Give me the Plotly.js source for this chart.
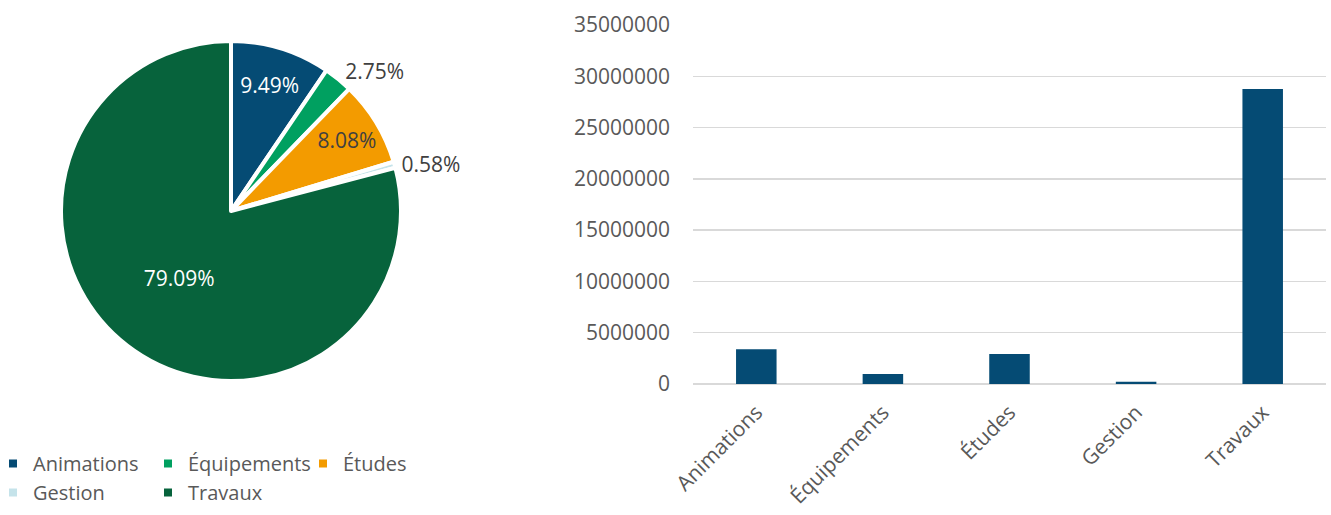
<!DOCTYPE html>
<html>
<head>
<meta charset="utf-8">
<script src="https://cdn.plot.ly/plotly-3.0.1.min.js"></script>
<style>
  html, body { margin: 0; padding: 0; background: #fff; overflow: hidden; }
  #wrap { position: relative; width: 1331px; height: 515px; }
  #pie { position: absolute; left: -7px; top: 0; width: 600px; height: 515px; }
  #bar { position: absolute; left: 557px; top: 0; width: 774px; height: 515px; }
</style>
</head>
<body>
<div id="wrap">
  <div id="pie"></div>
  <div id="bar"></div>
</div>
<script>
// ---- data ----
const categories = ["Animations", "Équipements", "Études", "Gestion", "Travaux"];
const sharePercent = [9.49, 2.75, 8.08, 0.58, 79.09];
const amounts = [3400000, 980000, 2920000, 210000, 28750000];
const yTickValues = [0, 5000000, 10000000, 15000000, 20000000, 25000000, 30000000, 35000000];
const yTickLabels = ["0", "5000000", "10000000", "15000000", "20000000", "25000000", "30000000", "35000000"];

// ---- styles ----
const sliceColors = ["#054B74", "#00A060", "#F39B00", "#C5E3EA", "#07633C"];
const labelColors = ["#ffffff", "#404040", "#404040", "#404040", "#ffffff"];
const labelPositions = ["inside", "outside", "inside", "outside", "inside"];
const FONT = "Open Sans, sans-serif";

const W = 600, H = 515;
const pieTrace = {
  type: "pie",
  labels: categories,
  values: sharePercent,
  sort: false,
  direction: "clockwise",
  rotation: 0,
  marker: { colors: sliceColors, line: { color: "#ffffff", width: 4 } },
  texttemplate: "%{value:.2f}%",
  textposition: labelPositions,
  insidetextorientation: "horizontal",
  textfont: { family: FONT, size: 21, color: labelColors },
  outsidetextfont: { family: FONT, size: 21, color: "#404040" },
  hoverinfo: "label+value",
  domain: { x: [68 / W, 408 / W], y: [1 - 381 / H, 1 - 41 / H] }
};

Plotly.newPlot("pie", [pieTrace], {
  width: W, height: H,
  margin: { l: 0, r: 0, t: 0, b: 0 },
  paper_bgcolor: "#ffffff",
  showlegend: true,
  legend: {
    orientation: "h",
    x: 0, xanchor: "left",
    y: 1 - 444 / H, yanchor: "top",
    entrywidth: 110, entrywidthmode: "pixels",
    font: { family: FONT, size: 20, color: "#595959" },
    bgcolor: "rgba(0,0,0,0)"
  },
  font: { family: FONT }
}, { staticPlot: true });

const barTrace = {
  type: "bar",
  x: categories,
  y: amounts,
  marker: { color: "#054B74" },
  hoverinfo: "x+y"
};

Plotly.newPlot("bar", [barTrace], {
  width: 774, height: 515,
  margin: { l: 136, r: 5, t: 25, b: 131 },
  paper_bgcolor: "#ffffff",
  plot_bgcolor: "#ffffff",
  bargap: 0.68,
  showlegend: false,
  font: { family: FONT, size: 21, color: "#595959" },
  xaxis: {
    type: "category",
    tickangle: -45,
    showgrid: false,
    showline: false,
    zeroline: false,
    ticks: "",
    ticklabelstandoff: 11,
    tickfont: { family: FONT, size: 21, color: "#595959" }
  },
  yaxis: {
    range: [0, 35000000],
    tickvals: yTickValues,
    ticktext: yTickLabels,
    showgrid: true,
    gridcolor: "#d9d9d9",
    gridwidth: 1.5,
    zeroline: true,
    zerolinecolor: "#d9d9d9",
    zerolinewidth: 1.5,
    showline: false,
    ticks: "",
    ticklabelstandoff: 22,
    tickfont: { family: FONT, size: 21, color: "#595959" }
  }
}, { staticPlot: true });
</script>
</body>
</html>
